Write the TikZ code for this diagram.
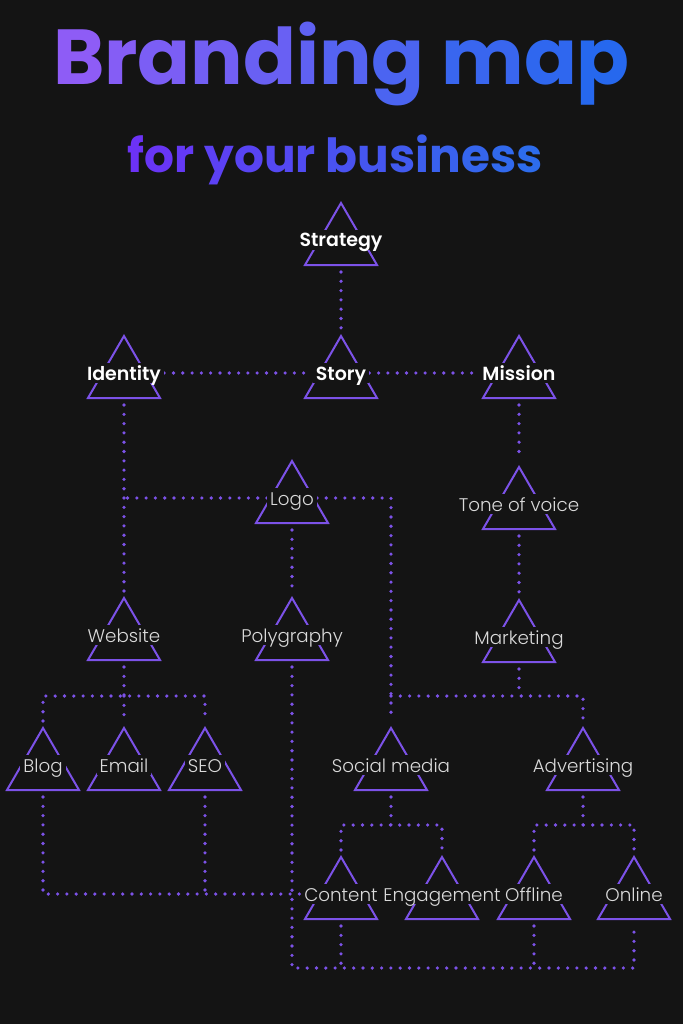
\documentclass[tikz,border=0pt]{standalone}
\usepackage{fontspec}
\setmainfont{Poppins}
\newfontfamily\lightfont{Poppins Light}
\newfontfamily\semifont{Poppins SemiBold}
\newfontfamily\boldfont{Poppins Bold}
\usetikzlibrary{calc}
\definecolor{bg}{RGB}{20,20,20}
\definecolor{lc}{RGB}{124,82,232}
\definecolor{lt}{RGB}{218,218,218}
\definecolor{tA}{RGB}{142,92,246}
\definecolor{tB}{RGB}{38,104,238}
\definecolor{sA}{RGB}{108,50,246}
\definecolor{sB}{RGB}{45,108,236}
\pgfdeclarelayer{bgl}
\pgfdeclarelayer{conl}
\pgfsetlayers{bgl,conl,main}
\tikzset{
  conn/.style={draw=lc, line width=3.6pt, line cap=round, dash pattern=on 0pt off 9.3pt},
  tri/.style={draw=lc, line width=2pt, line join=miter},
  lbl/.style={fill=bg, text=lt, font=\lightfont\fontsize{18.3}{18}\selectfont, text height=14pt, text depth=0pt, inner xsep=3pt, inner ysep=3pt},
  blbl/.style={lbl, text=white, font=\semifont\fontsize{19}{19}\selectfont},
}
\newcommand\brtri[5]{%
  \draw[tri] (#2-36,#3+25) -- (#2,#3-37) -- (#2+36,#3+25) -- cycle;
  \node[#4] (#1) at (#2,#3) {#5};
  \coordinate (#1-top) at (#2,#3-44);
  \coordinate (#1-bot) at (#2,#3+32);
}
\begin{document}
\begin{tikzpicture}[x=1pt,y=-1pt]
\begin{pgfonlayer}{bgl}
\fill[bg] (0,0) rectangle (683,1024);
\end{pgfonlayer}
\useasboundingbox (0,0) rectangle (683,1024);

\node[anchor=base, inner sep=0pt] (title) at (341.5,85) {\boldfont\fontsize{78}{78}\selectfont
\textcolor{tA!100!tB}{B}\textcolor{tA!91!tB}{r}\textcolor{tA!82!tB}{a}\textcolor{tA!73!tB}{n}\textcolor{tA!64!tB}{d}\textcolor{tA!55!tB}{i}\textcolor{tA!45!tB}{n}\textcolor{tA!36!tB}{g} \textcolor{tA!18!tB}{m}\textcolor{tA!9!tB}{a}\textcolor{tA!0!tB}{p}};
\node[anchor=base, inner sep=0pt] (subtitle) at (335,173) {\boldfont\fontsize{47}{47}\selectfont
\textcolor{sA!100!sB}{f}\textcolor{sA!94!sB}{o}\textcolor{sA!88!sB}{r} \textcolor{sA!75!sB}{y}\textcolor{sA!69!sB}{o}\textcolor{sA!62!sB}{u}\textcolor{sA!56!sB}{r} \textcolor{sA!44!sB}{b}\textcolor{sA!38!sB}{u}\textcolor{sA!31!sB}{s}\textcolor{sA!25!sB}{i}\textcolor{sA!19!sB}{n}\textcolor{sA!12!sB}{e}\textcolor{sA!6!sB}{s}\textcolor{sA!0!sB}{s}};

\brtri{strategy}{341}{240}{blbl}{Strategy}
\brtri{identity}{124}{373}{blbl}{Identity}
\brtri{story}{341}{373}{blbl}{Story}
\brtri{mission}{519}{373}{blbl}{Mission}
\brtri{logo}{292}{498}{lbl}{Logo}
\brtri{tone}{519}{504}{lbl}{Tone of voice}
\brtri{website}{124}{635}{lbl}{Website}
\brtri{polygraphy}{292}{635}{lbl}{Polygraphy}
\brtri{marketing}{519}{637}{lbl}{Marketing}
\brtri{blog}{43}{765}{lbl}{Blog}
\brtri{email}{124}{765}{lbl}{Email}
\brtri{seo}{205}{765}{lbl}{SEO}
\brtri{social}{391}{765}{lbl}{Social media}
\brtri{advertising}{583}{765}{lbl}{Advertising}
\brtri{content}{341}{894}{lbl}{Content}
\brtri{engagement}{442}{894}{lbl}{Engagement}
\brtri{offline}{534}{894}{lbl}{Offline}
\brtri{online}{634}{894}{lbl}{Online}

\coordinate (mkj) at (519,696);
\coordinate (wj) at (124,696);
\coordinate (sj) at (391,825);
\coordinate (aj) at (583,825);
\coordinate (bottomline) at (0,968);

\begin{pgfonlayer}{conl}
\draw[conn] (strategy-bot) -- (story-top);
\draw[conn] (identity) -- (story);
\draw[conn] (story) -- (mission);
\draw[conn] (identity-bot) -- (website-top);
\draw[conn] (logo.west) -- (logo.west -| identity-bot);
\draw[conn] (logo.east) -| (social-top);
\draw[conn] (logo-bot) -- (polygraphy-top);
\draw[conn] (mission-bot) -- (tone-top);
\draw[conn] (tone-bot) -- (marketing-top);
\draw[conn] (marketing-bot) -- (mkj);
\draw[conn] (mkj -| social-top) -- (mkj) -| (advertising-top);
\draw[conn] (website-bot) -- (wj);
\draw[conn] (blog-top) |- (wj) -| (seo-top);
\draw[conn] (wj) -- (email-top);
\draw[conn] (blog-bot) |- (content.west);
\draw[conn] (seo-bot) -- (seo-bot |- content.west);
\draw[conn] (polygraphy-bot) |- (online-bot |- bottomline) -- (online-bot);
\draw[conn] (content-bot) -- (content-bot |- bottomline);
\draw[conn] (offline-bot) -- (offline-bot |- bottomline);
\draw[conn] (social-bot) -- (sj);
\draw[conn] (content-top) |- (sj) -| (engagement-top);
\draw[conn] (advertising-bot) -- (aj);
\draw[conn] (offline-top) |- (aj) -| (online-top);
\end{pgfonlayer}
\end{tikzpicture}
\end{document}
